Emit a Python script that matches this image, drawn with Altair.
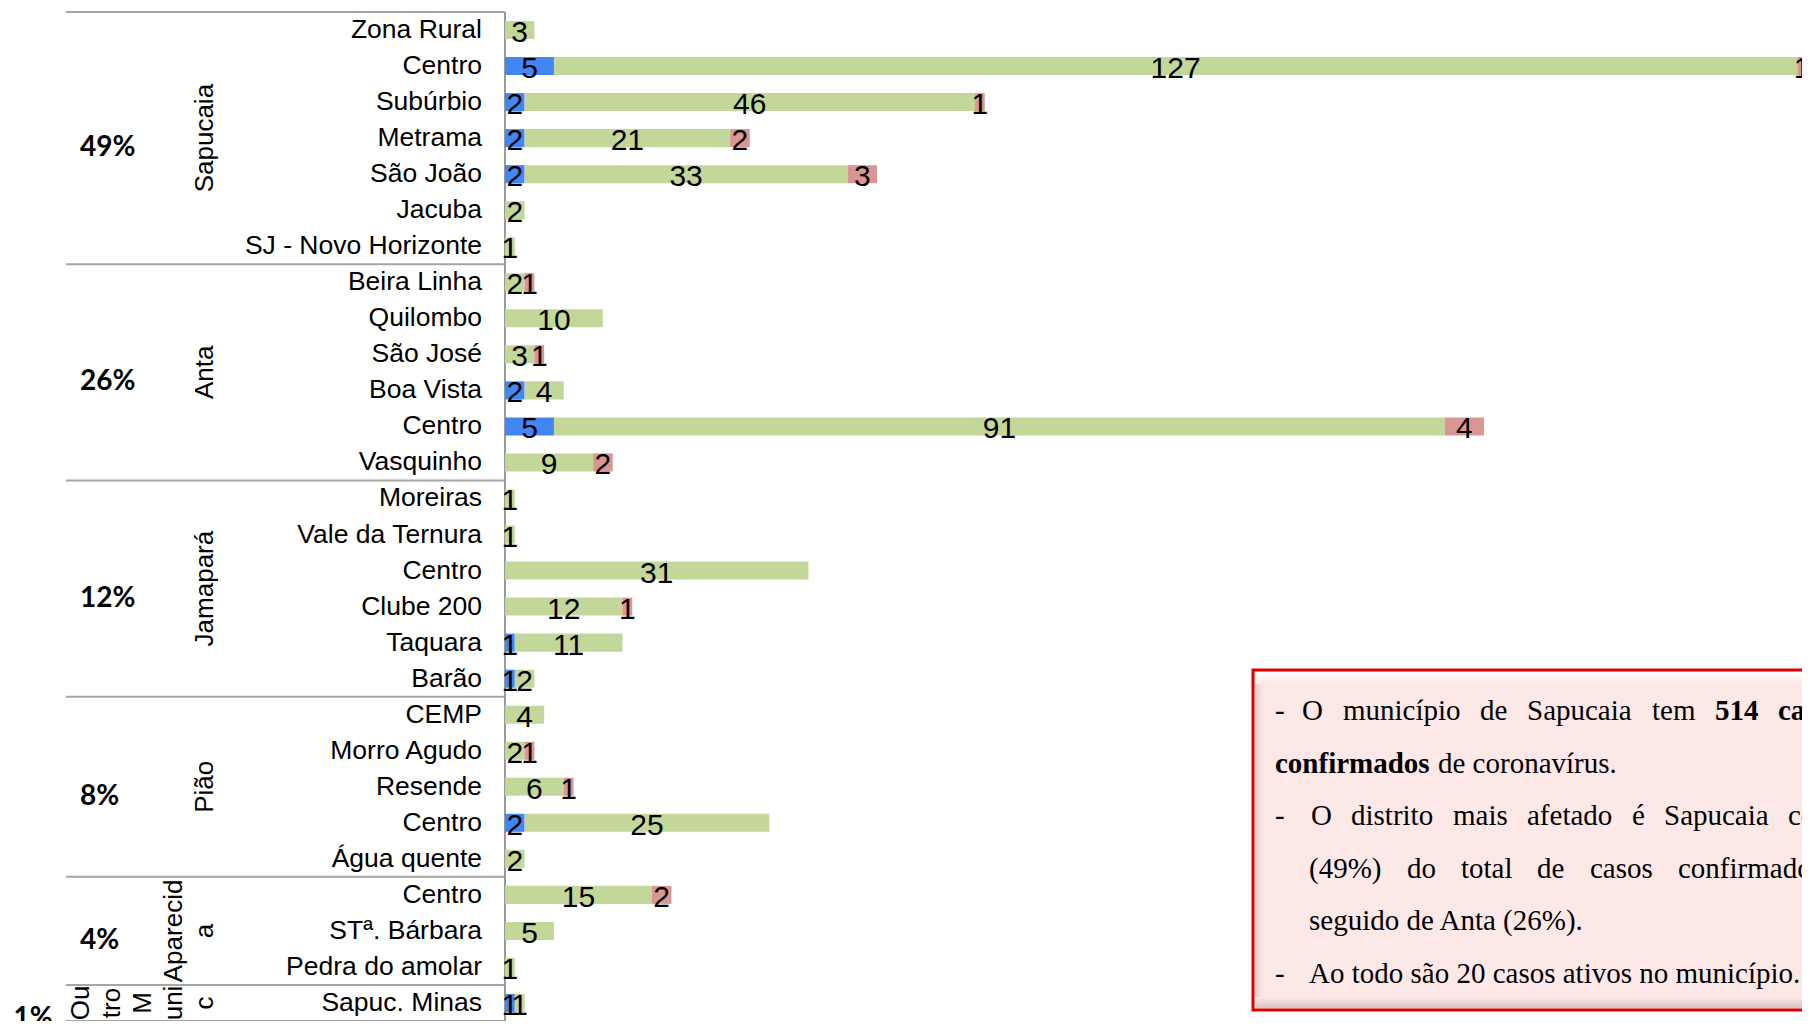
import altair as alt
import pandas as pd

# ---------------- data ----------------
districts = (["Sapucaia"] * 7 + ["Anta"] * 6 + ["Jamapará"] * 6 + ["Pião"] * 5
             + ["Aparecida"] * 3 + ["Outro Munic"] * 1)
bairros = ["Zona Rural", "Centro", "Subúrbio", "Metrama", "São João\u00a0", "Jacuba", "SJ - Novo Horizonte",
           "Beira Linha", "Quilombo", "São José", "Boa Vista", "Centro", "Vasquinho",
           "Moreiras", "Vale da Ternura", "Centro", "Clube 200", "Taquara", "Barão",
           "CEMP", "Morro Agudo", "Resende", "Centro", "Água quente",
           "Centro", "STª. Bárbara", "Pedra do amolar",
           "Sapuc. Minas"]
obitos = [0, 5, 2, 2, 2, 0, 0,
          0, 0, 0, 2, 5, 0,
          0, 0, 0, 0, 1, 1,
          0, 0, 0, 2, 0,
          0, 0, 0,
          1]
recuperados = [3, 127, 46, 21, 33, 2, 1,
               2, 10, 3, 4, 91, 9,
               1, 1, 31, 12, 11, 2,
               4, 2, 6, 25, 2,
               15, 5, 1,
               1]
ativos = [0, 1, 1, 2, 3, 0, 0,
          1, 0, 1, 0, 4, 2,
          0, 0, 0, 1, 0, 0,
          0, 1, 1, 0, 0,
          2, 0, 0,
          0]
group_names = ["Sapucaia", "Anta", "Jamapará", "Pião", "Aparecida", "Outro Munic"]
group_label_text = ["Sapucaia", "Anta", "Jamapará", "Pião", "Aparecid\na", "Ou\ntro\nM\nuni\nc"]
group_pct = ["49%", "26%", "12%", "8%", "4%", "1%"]
series_names = ["Óbitos", "Recuperados", "Ativos"]

box_text = [
    [("-", False), ("O", False), ("município", False), ("de", False), ("Sapucaia", False),
     ("tem", False), ("514", True), ("casos", True)],
    [("confirmados", True), ("de coronavírus.", False)],
    [("-", False), ("O", False), ("distrito", False), ("mais", False), ("afetado", False),
     ("é", False), ("Sapucaia", False), ("com", False)],
    [("(49%)", False), ("do", False), ("total", False), ("de", False), ("casos", False),
     ("confirmados", False)],
    [("seguido de Anta (26%).", False)],
    [("-", False), ("Ao todo são 20 casos ativos no município.", False)],
]

# ---------------- layout ----------------
PAGE_LEFT = 505
PAGE_TOP = 12
W, H = 1297, 1009
NROWS = len(bairros)
ROW = H / NROWS
SCALE = 9.79
SANS = "Liberation Sans"
SERIF = "Liberation Serif"
colors = ["#4285f4", "#c4d79b", "#da9694"]

def ux(page_x):
    return (page_x - PAGE_LEFT) / SCALE

def uy(page_y):
    return (page_y - PAGE_TOP) / ROW - 0.5

# word x positions (page px) for the justified text box
word_x = [
    [1275, 1302, 1343, 1480, 1527, 1652, 1715, 1778],
    [1275, 1438],
    [1275, 1311, 1351, 1453, 1527, 1632, 1664, 1788],
    [1309, 1407, 1461, 1537, 1590, 1678],
    [1309],
    [1275, 1309],
]
line_y0, line_step = 711, 52.6

# ---------------- tables ----------------
bar_rows = []
for i in range(NROWS):
    start = 0
    for s, v in zip(series_names, [obitos[i], recuperados[i], ativos[i]]):
        if v > 0:
            bar_rows.append({"row": i, "series": s, "start": start, "end": start + v,
                             "mid": start + v / 2, "value": v,
                             "y0": i - 0.25, "y1": i + 0.25})
            start += v
bars_df = pd.DataFrame(bar_rows)

rows_df = pd.DataFrame({"row": list(range(NROWS)), "bairro": bairros, "district": districts})

g = rows_df.groupby("district", sort=False)["row"].agg(["min", "max", "mean"]).reset_index()
groups_df = pd.DataFrame({
    "name": group_names,
    "label": group_label_text,
    "pct": group_pct,
})
groups_df = groups_df.merge(g, left_on="name", right_on="district")
groups_df["nlines"] = groups_df["label"].str.count("\n") + 1

sep_df = pd.DataFrame({"yb": list(groups_df["min"] - 0.5) + [NROWS - 0.5]})

words = []
for li, (line, xs) in enumerate(zip(box_text, word_x)):
    for (t, b), px in zip(line, xs):
        words.append({"t": t, "bold": b, "wx": ux(px), "wy": uy(line_y0 + li * line_step)})
words_df = pd.DataFrame(words)

# ---------------- chart ----------------
xs = alt.Scale(domain=[0, W / SCALE], nice=False, zero=False)
ys = alt.Scale(domain=[-0.5, NROWS - 0.5], reverse=True, nice=False, zero=False)
X = lambda f: alt.X(f, scale=xs, axis=None)
Y = lambda f: alt.Y(f, scale=ys, axis=None)

bars = alt.Chart(bars_df).mark_rect().encode(
    x=X("start:Q"), x2="end:Q", y=Y("y0:Q"), y2="y1:Q",
    color=alt.Color("series:N", scale=alt.Scale(domain=series_names, range=colors), legend=None),
)
vals = alt.Chart(bars_df).mark_text(font=SANS, fontSize=30, dy=3, color="black").encode(
    x=X("mid:Q"), y=Y("row:Q"), text="value:Q"
)
cats = alt.Chart(rows_df).mark_text(font=SANS, fontSize=26.5, align="right", color="black").encode(
    x=alt.value(-23), y=Y("row:Q"), text="bairro:N"
)

def glabel(filt, xpix):
    return alt.Chart(groups_df).transform_filter(filt).mark_text(
        font=SANS, fontSize=26, angle=270, align="center", baseline="middle",
        lineBreak="\n", lineHeight=31, color="black"
    ).encode(x=alt.value(xpix), y=Y("mean:Q"), text="label:N")

g1 = glabel("datum.nlines == 1", -300)
g2 = glabel("datum.name == 'Aparecida'", -331)
g3 = glabel("datum.name == 'Outro Munic'", -424)

p1 = alt.Chart(groups_df).transform_filter("datum.name != 'Outro Munic'").mark_text(
    font="Lato", fontWeight="bold", fontSize=28, align="left", dy=10, color="black"
).encode(x=alt.value(-425), y=Y("mean:Q"), text="pct:N")
p2 = alt.Chart(groups_df).transform_filter("datum.name == 'Outro Munic'").mark_text(
    font="Lato", fontWeight="bold", fontSize=28, align="center", dy=16, color="black"
).encode(x=alt.value(-472), y=Y("mean:Q"), text="pct:N")

seps = alt.Chart(sep_df).mark_rule(color="#a6a6a6", strokeWidth=2).encode(
    x=alt.value(-439), x2=alt.value(0), y=Y("yb:Q")
)
axis_line = alt.Chart(pd.DataFrame({"a": [-0.5], "b": [NROWS - 0.5]})).mark_rule(
    color="#9a9a9a", strokeWidth=2
).encode(x=alt.value(0), y=Y("a:Q"), y2="b:Q")

box_df = pd.DataFrame({"x0": [ux(1253)], "x1": [ux(1950)], "y0": [uy(670)], "y1": [uy(1010)]})
box = alt.Chart(box_df).mark_rect(fill="#fde8e8", stroke="#dc0000", strokeWidth=3).encode(
    x=X("x0:Q"), x2="x1:Q", y=Y("y0:Q"), y2="y1:Q"
)
top_grad = alt.Gradient(gradient="linear", x1=0, x2=0, y1=0, y2=1,
                        stops=[alt.GradientStop(color="#ffffff", offset=0),
                               alt.GradientStop(color="#fde8e8", offset=1)])
bot_grad = alt.Gradient(gradient="linear", x1=0, x2=0, y1=0, y2=1,
                        stops=[alt.GradientStop(color="#fde8e8", offset=0),
                               alt.GradientStop(color="#d9c3c3", offset=1)])
left_grad = alt.Gradient(gradient="linear", x1=0, x2=1, y1=0, y2=0,
                         stops=[alt.GradientStop(color="#e9cccc", offset=0),
                                alt.GradientStop(color="#fde8e8", offset=1)])
bev_top = alt.Chart(pd.DataFrame({"x0": [ux(1256)], "x1": [ux(1950)], "y0": [uy(672)], "y1": [uy(684)]})
                    ).mark_rect(fill=top_grad).encode(x=X("x0:Q"), x2="x1:Q", y=Y("y0:Q"), y2="y1:Q")
bev_bot = alt.Chart(pd.DataFrame({"x0": [ux(1256)], "x1": [ux(1950)], "y0": [uy(997)], "y1": [uy(1008)]})
                    ).mark_rect(fill=bot_grad).encode(x=X("x0:Q"), x2="x1:Q", y=Y("y0:Q"), y2="y1:Q")
bev_left = alt.Chart(pd.DataFrame({"x0": [ux(1255)], "x1": [ux(1263)], "y0": [uy(684)], "y1": [uy(997)]})
                     ).mark_rect(fill=left_grad).encode(x=X("x0:Q"), x2="x1:Q", y=Y("y0:Q"), y2="y1:Q")

w_norm = alt.Chart(words_df).transform_filter("!datum.bold").mark_text(
    font=SERIF, fontSize=29, align="left", baseline="middle", color="black"
).encode(x=X("wx:Q"), y=Y("wy:Q"), text="t:N")
w_bold = alt.Chart(words_df).transform_filter("datum.bold").mark_text(
    font=SERIF, fontSize=29, fontWeight="bold", align="left", baseline="middle", color="black"
).encode(x=X("wx:Q"), y=Y("wy:Q"), text="t:N")

chart = alt.layer(
    seps, axis_line, bars, vals, cats, g1, g2, g3, p1, p2,
    box, bev_top, bev_bot, bev_left, w_norm, w_bold
).properties(
    width=W, height=H,
    padding={"left": PAGE_LEFT - 8, "top": PAGE_TOP - 8, "right": 0, "bottom": 0},
    autosize=alt.AutoSizeParams(type="none"),
    background="white",
).configure_view(stroke=None)

chart.save("out.html", embed_options={"renderer": "svg", "actions": False})
